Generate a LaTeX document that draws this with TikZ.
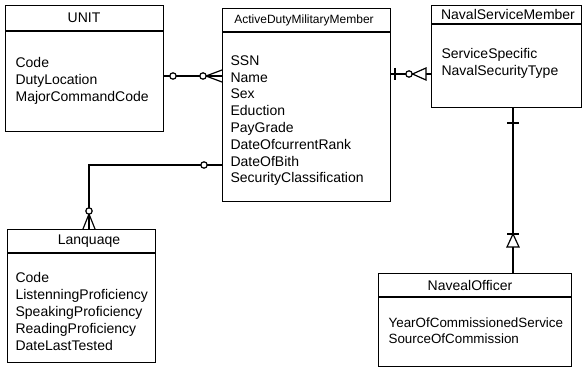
\documentclass[tikz,border=0pt]{standalone}
\usepackage{fontspec}
\setmainfont{Liberation Sans}
\begin{document}
\begin{tikzpicture}[x=1pt,y=-1pt,line width=1.2pt,
  ent/.style={draw,rectangle,inner sep=0pt,anchor=north west},
  ttl/.style={font=\fontsize{14}{17}\selectfont,inner sep=0pt},
  attr/.style={font=\fontsize{14}{17}\selectfont,inner sep=0pt,anchor=north west,align=left},
  ring/.style={draw,fill=white,line width=1.2pt},
  tri/.style={draw,fill=white,line width=1.2pt}]
\useasboundingbox (0,0) rectangle (583,371);
% entities
\node[ent,minimum width=158pt,minimum height=126pt] (unit) at (5,5) {};
\draw ([yshift=-26pt]unit.north west) -- ([yshift=-26pt]unit.north east);
\node[ttl] (unitT) at (84,18) {UNIT};
\node[attr] (unitA) at (15,57) {Code\\DutyLocation\\MajorCommandCode};

\node[ent,minimum width=168pt,minimum height=193pt] (active) at (222,8) {};
\draw ([yshift=-24pt]active.north west) -- ([yshift=-24pt]active.north east);
\node[ttl,font=\fontsize{12}{14}\selectfont] (activeT) at (304,20) {ActiveDutyMilitaryMember};
\node[attr,font=\fontsize{14}{16.8}\selectfont] (activeA) at (230,55) {SSN\\Name\\Sex\\Eduction\\PayGrade\\DateOfcurrentRank\\DateOfBith\\SecurityClassification};

\node[ent,minimum width=150pt,minimum height=102pt] (naval) at (431,5) {};
\draw ([yshift=-19pt]naval.north west) -- ([yshift=-19pt]naval.north east);
\node[ttl] (navalT) at (508,14) {NavalServiceMember};
\node[attr] (navalA) at (441,48) {ServiceSpecific\\NavalSecurityType};

\node[ent,minimum width=148pt,minimum height=133pt] (lang) at (7,229) {};
\draw ([yshift=-24pt]lang.north west) -- ([yshift=-24pt]lang.north east);
\node[ttl] (langT) at (89,241) {Lanquaqe};
\node[attr] (langA) at (15,272) {Code\\ListenningProficiency\\SpeakingProficiency\\ReadingProficiency\\DateLastTested};

\node[ent,minimum width=193pt,minimum height=93pt] (officer) at (378,273) {};
\draw ([yshift=-24pt]officer.north west) -- ([yshift=-24pt]officer.north east);
\node[ttl] (officerT) at (470,285) {NavealOfficer};
\node[attr,font=\fontsize{13.4}{16.5}\selectfont] (officerA) at (388,317) {YearOfCommissionedService\\SourceOfCommission};

% UNIT -- Active
\coordinate (y1) at (0,76);
\draw (unit.east |- y1) -- (active.west |- y1);
\draw[ring] (173,76) circle (3.2pt);
\draw (206,76) -- (222,70) (206,76) -- (222,82);
\draw[ring] (203,76) circle (3.2pt);

% Active -- Language
\coordinate (y2) at (0,165);
\coordinate (lx) at (89,0);
\draw (active.west |- y2) -| (lang.north -| lx);
\draw[ring] (204,165) circle (3.2pt);
\draw (89,214) -- (83,229) (89,214) -- (95,229);
\draw[ring] (89,211) circle (3.2pt);

% Active -- Naval
\coordinate (y3) at (0,74);
\draw (active.east |- y3) -- (naval.west |- y3);
\draw (395,68) -- (395,80);
\draw[ring] (409,74) circle (3.2pt);
\draw[tri] (412.5,74) -- (426,68) -- (426,80) -- cycle;

% Naval -- Officer
\coordinate (nx) at (513,0);
\draw (naval.south -| nx) -- (officer.north -| nx);
\draw (507,123) -- (519,123);
\draw (507,234) -- (519,234);
\draw[tri] (513,234) -- (507,247) -- (519,247) -- cycle;
\end{tikzpicture}
\end{document}
